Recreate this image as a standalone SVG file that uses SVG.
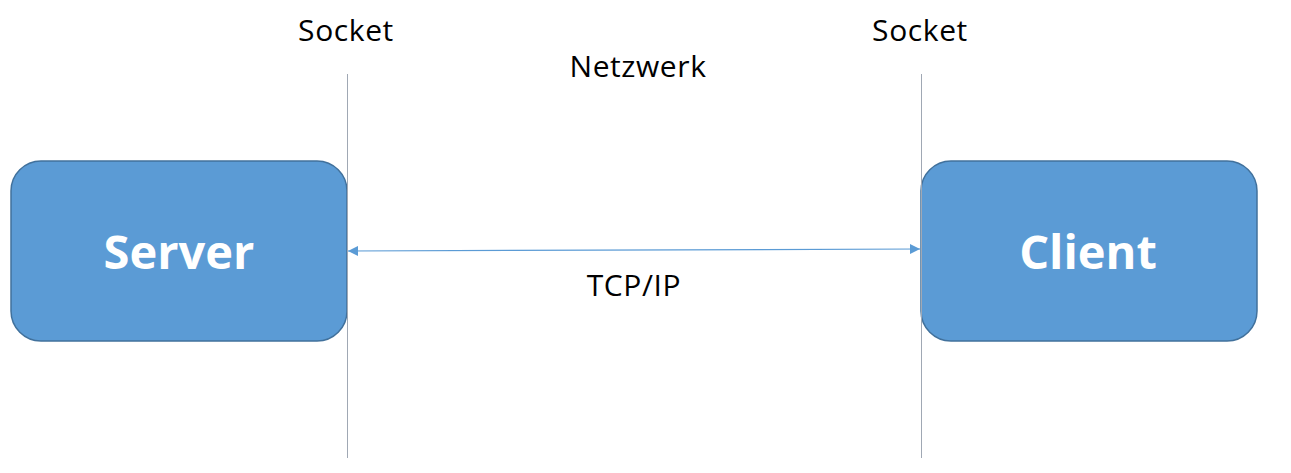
<svg xmlns="http://www.w3.org/2000/svg" width="1291" height="473" viewBox="0 0 1291 473">
<defs>
<style>
.box{fill:#5b9bd5;stroke:#41719c;stroke-width:1.5}
.bl{font-family:"Open Sans","Liberation Sans",sans-serif;font-weight:bold;font-size:47px;fill:#fff;text-anchor:middle}
.lb{font-family:"Open Sans","Liberation Sans",sans-serif;font-size:30px;letter-spacing:0.6px;fill:#000;text-anchor:middle}
.vl{stroke:#a0a8b4;stroke-width:1}
.ar{stroke:#5b9bd5;stroke-width:1.2;fill:none}
</style>
<marker id="ah" viewBox="0 0 10 10" refX="10" refY="5" markerWidth="12" markerHeight="10" markerUnits="userSpaceOnUse" orient="auto-start-reverse">
<path d="M0,0 L10,5 L0,10 Z" fill="#5b9bd5"/>
</marker>
</defs>
<g id="server">
<rect class="box" x="11" y="161" width="336" height="180" rx="30" ry="30"/>
<text class="bl" x="179" y="269">Server</text>
</g>
<g id="client">
<rect class="box" x="921" y="161" width="336" height="180" rx="30" ry="30"/>
<text class="bl" x="1088" y="269">Client</text>
</g>
<g id="labels">
<text class="lb" x="346" y="41">Socket</text>
<text class="lb" x="920" y="41">Socket</text>
<text class="lb" x="638" y="77">Netzwerk</text>
<text class="lb" x="634" y="296">TCP/IP</text>
</g>
<g id="connectors">
<line class="vl" x1="347.5" y1="74" x2="347.5" y2="458"/>
<line class="vl" x1="921.5" y1="74" x2="921.5" y2="458"/>
<line class="ar" x1="348" y1="251" x2="920" y2="249" marker-start="url(#ah)" marker-end="url(#ah)"/>
</g>
</svg>
